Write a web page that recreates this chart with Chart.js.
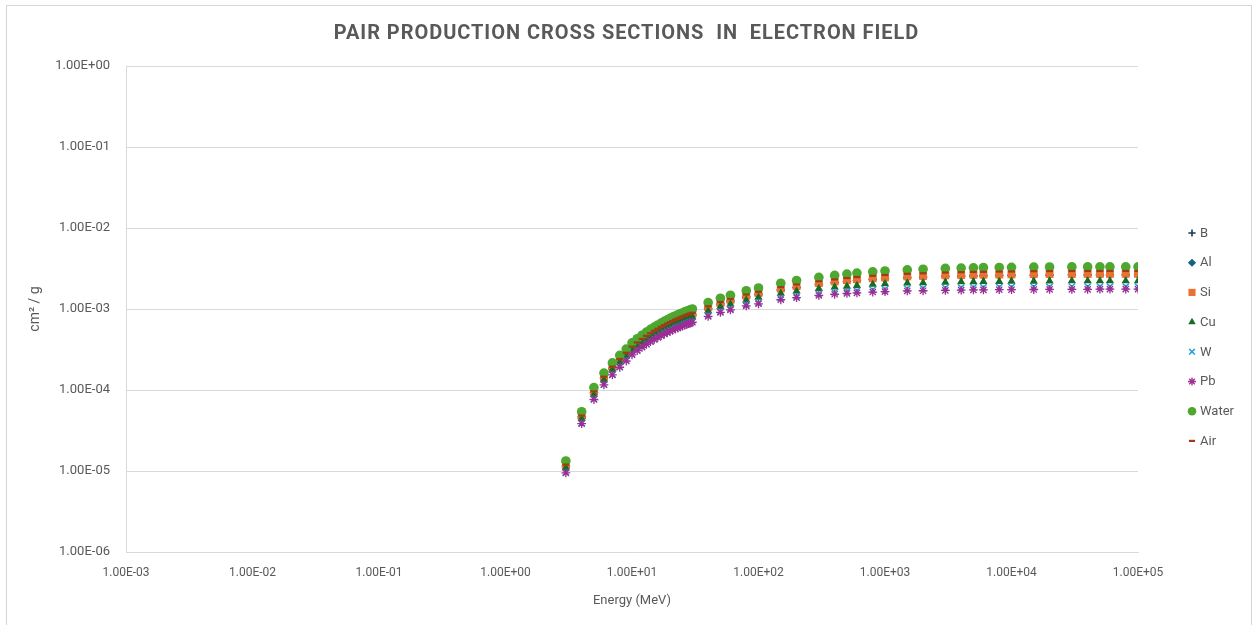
<!DOCTYPE html>
<html>
<head>
<meta charset="utf-8">
<script src="https://cdn.jsdelivr.net/npm/chart.js@4/dist/chart.umd.min.js"></script>
<style>
  html, body { margin: 0; padding: 0; background: #ffffff; }
  #wrap { position: relative; width: 1253px; height: 625px; overflow: hidden; }
  #frame { position: absolute; left: 6px; top: 5px; width: 1246px; height: 660px;
           border: 1px solid #d6d6d6; box-sizing: border-box; pointer-events: none; }
</style>
</head>
<body>
<div id="wrap"><canvas id="chart"></canvas><div id="frame"></div></div>
<script>
// Photon energies (MeV)
const energies = [3, 4, 5, 6, 7, 8, 9, 10,
  11, 12, 13, 14, 15, 16, 17, 18, 19, 20,
  21, 22, 23, 24, 25, 26, 27, 28, 29, 30,
  40, 50, 60, 80, 100,
  150, 200, 300, 400, 500, 600, 800, 1000,
  1500, 2000, 3000, 4000, 5000, 6000, 8000, 10000,
  15000, 20000, 30000, 40000, 50000, 60000, 80000, 100000];

// Pair production in the electron field (cm2/g)
const boron = [1.11e-5, 4.50e-5, 8.91e-5, 1.35e-4, 1.80e-4, 2.23e-4, 2.67e-4, 3.18e-4,
  3.58e-4, 3.95e-4, 4.31e-4, 4.66e-4, 4.97e-4, 5.28e-4, 5.57e-4, 5.83e-4, 6.10e-4, 6.35e-4,
  6.58e-4, 6.80e-4, 7.01e-4, 7.21e-4, 7.41e-4, 7.60e-4, 7.78e-4, 7.95e-4, 8.11e-4, 8.28e-4,
  9.91e-4, 1.12e-3, 1.22e-3, 1.38e-3, 1.49e-3,
  1.70e-3, 1.83e-3, 2.00e-3, 2.11e-3, 2.18e-3, 2.24e-3, 2.32e-3, 2.37e-3,
  2.45e-3, 2.49e-3, 2.54e-3, 2.56e-3, 2.58e-3, 2.59e-3, 2.61e-3, 2.62e-3,
  2.63e-3, 2.64e-3, 2.65e-3, 2.65e-3, 2.66e-3, 2.66e-3, 2.66e-3, 2.66e-3];

const aluminium = [1.15e-5, 4.69e-5, 9.29e-5, 1.41e-4, 1.87e-4, 2.33e-4, 2.78e-4, 3.32e-4,
  3.73e-4, 4.12e-4, 4.49e-4, 4.84e-4, 5.17e-4, 5.49e-4, 5.78e-4, 6.07e-4, 6.34e-4, 6.59e-4,
  6.83e-4, 7.05e-4, 7.28e-4, 7.47e-4, 7.68e-4, 7.87e-4, 8.06e-4, 8.24e-4, 8.41e-4, 8.58e-4,
  1.02e-3, 1.16e-3, 1.26e-3, 1.42e-3, 1.53e-3,
  1.73e-3, 1.86e-3, 2.02e-3, 2.12e-3, 2.19e-3, 2.25e-3, 2.32e-3, 2.37e-3,
  2.43e-3, 2.47e-3, 2.52e-3, 2.54e-3, 2.55e-3, 2.57e-3, 2.58e-3, 2.59e-3,
  2.60e-3, 2.61e-3, 2.62e-3, 2.62e-3, 2.63e-3, 2.63e-3, 2.63e-3, 2.63e-3];

const silicon = [1.19e-5, 4.84e-5, 9.60e-5, 1.45e-4, 1.94e-4, 2.40e-4, 2.87e-4, 3.43e-4,
  3.85e-4, 4.25e-4, 4.64e-4, 5.01e-4, 5.34e-4, 5.66e-4, 5.98e-4, 6.26e-4, 6.54e-4, 6.80e-4,
  7.05e-4, 7.28e-4, 7.51e-4, 7.72e-4, 7.93e-4, 8.12e-4, 8.32e-4, 8.51e-4, 8.67e-4, 8.85e-4,
  1.06e-3, 1.19e-3, 1.30e-3, 1.46e-3, 1.58e-3,
  1.79e-3, 1.92e-3, 2.09e-3, 2.19e-3, 2.27e-3, 2.33e-3, 2.40e-3, 2.45e-3,
  2.53e-3, 2.56e-3, 2.61e-3, 2.63e-3, 2.65e-3, 2.66e-3, 2.67e-3, 2.68e-3,
  2.70e-3, 2.71e-3, 2.71e-3, 2.71e-3, 2.72e-3, 2.72e-3, 2.72e-3, 2.72e-3];

const copper = [1.09e-5, 4.44e-5, 8.80e-5, 1.33e-4, 1.78e-4, 2.20e-4, 2.63e-4, 3.14e-4,
  3.53e-4, 3.89e-4, 4.23e-4, 4.57e-4, 4.87e-4, 5.16e-4, 5.43e-4, 5.69e-4, 5.94e-4, 6.17e-4,
  6.39e-4, 6.60e-4, 6.80e-4, 6.99e-4, 7.17e-4, 7.35e-4, 7.51e-4, 7.68e-4, 7.83e-4, 7.99e-4,
  9.50e-4, 1.07e-3, 1.15e-3, 1.29e-3, 1.39e-3,
  1.56e-3, 1.66e-3, 1.79e-3, 1.86e-3, 1.91e-3, 1.95e-3, 2.01e-3, 2.04e-3,
  2.09e-3, 2.11e-3, 2.14e-3, 2.16e-3, 2.17e-3, 2.18e-3, 2.18e-3, 2.19e-3,
  2.20e-3, 2.21e-3, 2.22e-3, 2.22e-3, 2.22e-3, 2.22e-3, 2.22e-3, 2.22e-3];

const tungsten = [9.63e-6, 3.91e-5, 7.75e-5, 1.17e-4, 1.56e-4, 1.94e-4, 2.32e-4, 2.77e-4,
  3.10e-4, 3.42e-4, 3.72e-4, 4.02e-4, 4.28e-4, 4.54e-4, 4.78e-4, 5.01e-4, 5.22e-4, 5.42e-4,
  5.61e-4, 5.80e-4, 5.97e-4, 6.12e-4, 6.28e-4, 6.45e-4, 6.59e-4, 6.74e-4, 6.87e-4, 7.01e-4,
  8.32e-4, 9.33e-4, 1.01e-3, 1.13e-3, 1.20e-3,
  1.35e-3, 1.44e-3, 1.54e-3, 1.60e-3, 1.64e-3, 1.68e-3, 1.72e-3, 1.75e-3,
  1.78e-3, 1.80e-3, 1.83e-3, 1.84e-3, 1.85e-3, 1.85e-3, 1.86e-3, 1.86e-3,
  1.88e-3, 1.88e-3, 1.89e-3, 1.89e-3, 1.89e-3, 1.89e-3, 1.89e-3, 1.89e-3];

const lead = [9.48e-6, 3.85e-5, 7.63e-5, 1.16e-4, 1.54e-4, 1.91e-4, 2.28e-4, 2.72e-4,
  3.06e-4, 3.37e-4, 3.67e-4, 3.95e-4, 4.21e-4, 4.46e-4, 4.69e-4, 4.91e-4, 5.12e-4, 5.32e-4,
  5.50e-4, 5.68e-4, 5.85e-4, 6.00e-4, 6.16e-4, 6.31e-4, 6.45e-4, 6.60e-4, 6.72e-4, 6.86e-4,
  8.11e-4, 9.07e-4, 9.77e-4, 1.09e-3, 1.16e-3,
  1.30e-3, 1.38e-3, 1.47e-3, 1.52e-3, 1.56e-3, 1.58e-3, 1.62e-3, 1.64e-3,
  1.67e-3, 1.68e-3, 1.70e-3, 1.71e-3, 1.72e-3, 1.72e-3, 1.73e-3, 1.73e-3,
  1.74e-3, 1.75e-3, 1.75e-3, 1.75e-3, 1.76e-3, 1.76e-3, 1.76e-3, 1.76e-3];

const water = [1.33e-5, 5.40e-5, 1.07e-4, 1.62e-4, 2.16e-4, 2.68e-4, 3.20e-4, 3.82e-4,
  4.30e-4, 4.75e-4, 5.18e-4, 5.60e-4, 5.98e-4, 6.35e-4, 6.70e-4, 7.03e-4, 7.35e-4, 7.65e-4,
  7.93e-4, 8.20e-4, 8.46e-4, 8.70e-4, 8.94e-4, 9.17e-4, 9.39e-4, 9.60e-4, 9.80e-4, 1.00e-3,
  1.20e-3, 1.36e-3, 1.48e-3, 1.68e-3, 1.82e-3,
  2.08e-3, 2.25e-3, 2.46e-3, 2.60e-3, 2.70e-3, 2.78e-3, 2.88e-3, 2.95e-3,
  3.05e-3, 3.10e-3, 3.17e-3, 3.20e-3, 3.22e-3, 3.24e-3, 3.26e-3, 3.27e-3,
  3.29e-3, 3.30e-3, 3.31e-3, 3.31e-3, 3.32e-3, 3.32e-3, 3.32e-3, 3.32e-3];

const air = [1.20e-5, 4.85e-5, 9.62e-5, 1.46e-4, 1.94e-4, 2.41e-4, 2.88e-4, 3.43e-4,
  3.87e-4, 4.27e-4, 4.66e-4, 5.03e-4, 5.38e-4, 5.70e-4, 6.02e-4, 6.31e-4, 6.60e-4, 6.87e-4,
  7.12e-4, 7.36e-4, 7.60e-4, 7.81e-4, 8.03e-4, 8.23e-4, 8.43e-4, 8.62e-4, 8.80e-4, 8.98e-4,
  1.08e-3, 1.22e-3, 1.33e-3, 1.51e-3, 1.63e-3,
  1.86e-3, 2.01e-3, 2.20e-3, 2.32e-3, 2.41e-3, 2.48e-3, 2.57e-3, 2.63e-3,
  2.72e-3, 2.76e-3, 2.82e-3, 2.85e-3, 2.87e-3, 2.88e-3, 2.90e-3, 2.91e-3,
  2.93e-3, 2.94e-3, 2.95e-3, 2.95e-3, 2.95e-3, 2.95e-3, 2.95e-3, 2.95e-3];

// Axis decades and their labels
const xTickValues = [1e-3, 1e-2, 1e-1, 1e0, 1e1, 1e2, 1e3, 1e4, 1e5];
const xTickLabels = ['1.00E-03', '1.00E-02', '1.00E-01', '1.00E+00', '1.00E+01',
  '1.00E+02', '1.00E+03', '1.00E+04', '1.00E+05'];
const yTickValues = [1e-6, 1e-5, 1e-4, 1e-3, 1e-2, 1e-1, 1e0];
const yTickLabels = ['1.00E-06', '1.00E-05', '1.00E-04', '1.00E-03', '1.00E-02',
  '1.00E-01', '1.00E+00'];

const seriesNames = ['B', 'Al', 'Si', 'Cu', 'W', 'Pb', 'Water', 'Air'];
const seriesValues = [boron, aluminium, silicon, copper, tungsten, lead, water, air];

// Marker look per material
const markerStyles = [
  { pointStyle: 'cross',    color: '#17395a', radius: 4,   border: 1.6 },
  { pointStyle: 'rectRot',  color: '#156082', radius: 4.5, border: 0 },
  { pointStyle: 'rect',     color: '#e97132', radius: 5.6, border: 0 },
  { pointStyle: 'triangle', color: '#196b24', radius: 4.8, border: 0 },
  { pointStyle: 'crossRot', color: '#0f9ed5', radius: 4.4, border: 1.4 },
  { pointStyle: 'star',     color: '#a02b93', radius: 4.4, border: 1.3 },
  { pointStyle: 'circle',   color: '#4ea72e', radius: 4.8, border: 0 },
  { pointStyle: 'line',     color: '#9c3d17', radius: 3.4, border: 2.2 }
];

const datasets = seriesNames.map((name, i) => {
  const m = markerStyles[i];
  return {
    label: name,
    data: energies.map((e, k) => ({ x: e, y: seriesValues[i][k] })),
    showLine: false,
    pointStyle: m.pointStyle,
    pointRadius: m.radius,
    pointHoverRadius: m.radius,
    pointBackgroundColor: m.color,
    pointBorderColor: m.color,
    pointBorderWidth: m.border,
    backgroundColor: m.color,
    borderColor: m.color,
    // later materials are painted over earlier ones
    order: seriesNames.length - i
  };
});

const TEXT = '#595959';
const GRID = '#d9d9d9';

// Side legend: one row per material, marker then name
const sideLegend = {
  id: 'sideLegend',
  afterDraw(chart) {
    const ctx = chart.ctx;
    const x0 = 1192, y0 = 233, step = 29.7;
    ctx.save();
    ctx.font = '13px Roboto, "Noto Sans", sans-serif';
    ctx.textBaseline = 'middle';
    ctx.textAlign = 'left';
    chart.data.datasets.forEach((ds, i) => {
      const m = markerStyles[i];
      const y = y0 + i * step;
      ctx.fillStyle = m.color;
      ctx.strokeStyle = m.color;
      ctx.lineWidth = m.border;
      Chart.helpers.drawPoint(ctx, {
        pointStyle: m.pointStyle,
        radius: m.radius * 0.9,
        rotation: 0,
        borderWidth: m.border
      }, x0, y);
      ctx.fillStyle = TEXT;
      ctx.fillText(ds.label, x0 + 8, y + 0.5);
    });
    ctx.restore();
  }
};

// Centre the title on the whole canvas and space its letters out
const titleStyle = {
  id: 'titleStyle',
  afterLayout(chart) {
    const t = chart.titleBlock;
    if (!t) return;
    t.left = 0; t.right = chart.width; t.width = chart.width;
    if (!t._spaced) {
      const draw = t.draw;
      t.draw = function () {
        const ctx = this.ctx;
        ctx.save();
        ctx.letterSpacing = '0.95px';
        draw.apply(this, arguments);
        ctx.restore();
      };
      t._spaced = true;
    }
  }
};

new Chart(document.getElementById('chart'), {
  type: 'scatter',
  data: { datasets },
  plugins: [sideLegend, titleStyle],
  options: {
    responsive: true,
    maintainAspectRatio: false,
    animation: false,
    layout: { padding: { left: 0, right: 115, top: 0, bottom: 0 } },
    plugins: {
      legend: { display: false },
      tooltip: { enabled: false },
      title: {
        display: true,
        text: 'PAIR PRODUCTION CROSS SECTIONS  IN  ELECTRON FIELD',
        color: TEXT,
        font: { family: 'Roboto, "Noto Sans", sans-serif', size: 20, weight: 'bold' },
        padding: { top: 22, bottom: 20 }
      }
    },
    scales: {
      x: {
        type: 'logarithmic',
        position: 'bottom',
        min: 1e-3,
        max: 1e5,
        afterBuildTicks: (s) => { s.ticks = xTickValues.map(v => ({ value: v })); },
        afterFit: (s) => { s.height = 73; },
        grid: { display: true, color: 'rgba(0,0,0,0)', drawTicks: false },
        border: { display: true, color: GRID, width: 1 },
        ticks: {
          autoSkip: false, maxRotation: 0, minRotation: 0, padding: 14,
          color: TEXT,
          font: { family: 'Roboto, sans-serif', size: 12 },
          callback: (v, i) => xTickLabels[i]
        },
        title: {
          display: true, text: 'Energy (MeV)', color: TEXT,
          font: { family: 'Roboto, sans-serif', size: 13 },
          padding: { top: 4, bottom: 16 }
        }
      },
      y: {
        type: 'logarithmic',
        position: 'left',
        min: 1e-6,
        max: 1e0,
        afterBuildTicks: (s) => { s.ticks = yTickValues.map(v => ({ value: v })); },
        afterFit: (s) => { s.width = 126; },
        grid: { display: true, color: GRID, lineWidth: 1, drawTicks: false },
        border: { display: true, color: GRID, width: 1 },
        ticks: {
          autoSkip: false, padding: 16, color: TEXT,
          font: { family: 'Roboto, "Noto Sans", sans-serif', size: 13 },
          callback: (v, i) => yTickLabels[i]
        },
        title: {
          display: true, text: 'cm\u00B2 / g', color: TEXT,
          font: { family: 'Roboto, "Noto Sans", sans-serif', size: 14 },
          padding: { top: 27, bottom: 4 }
        }
      }
    }
  }
});
</script>
</body>
</html>
